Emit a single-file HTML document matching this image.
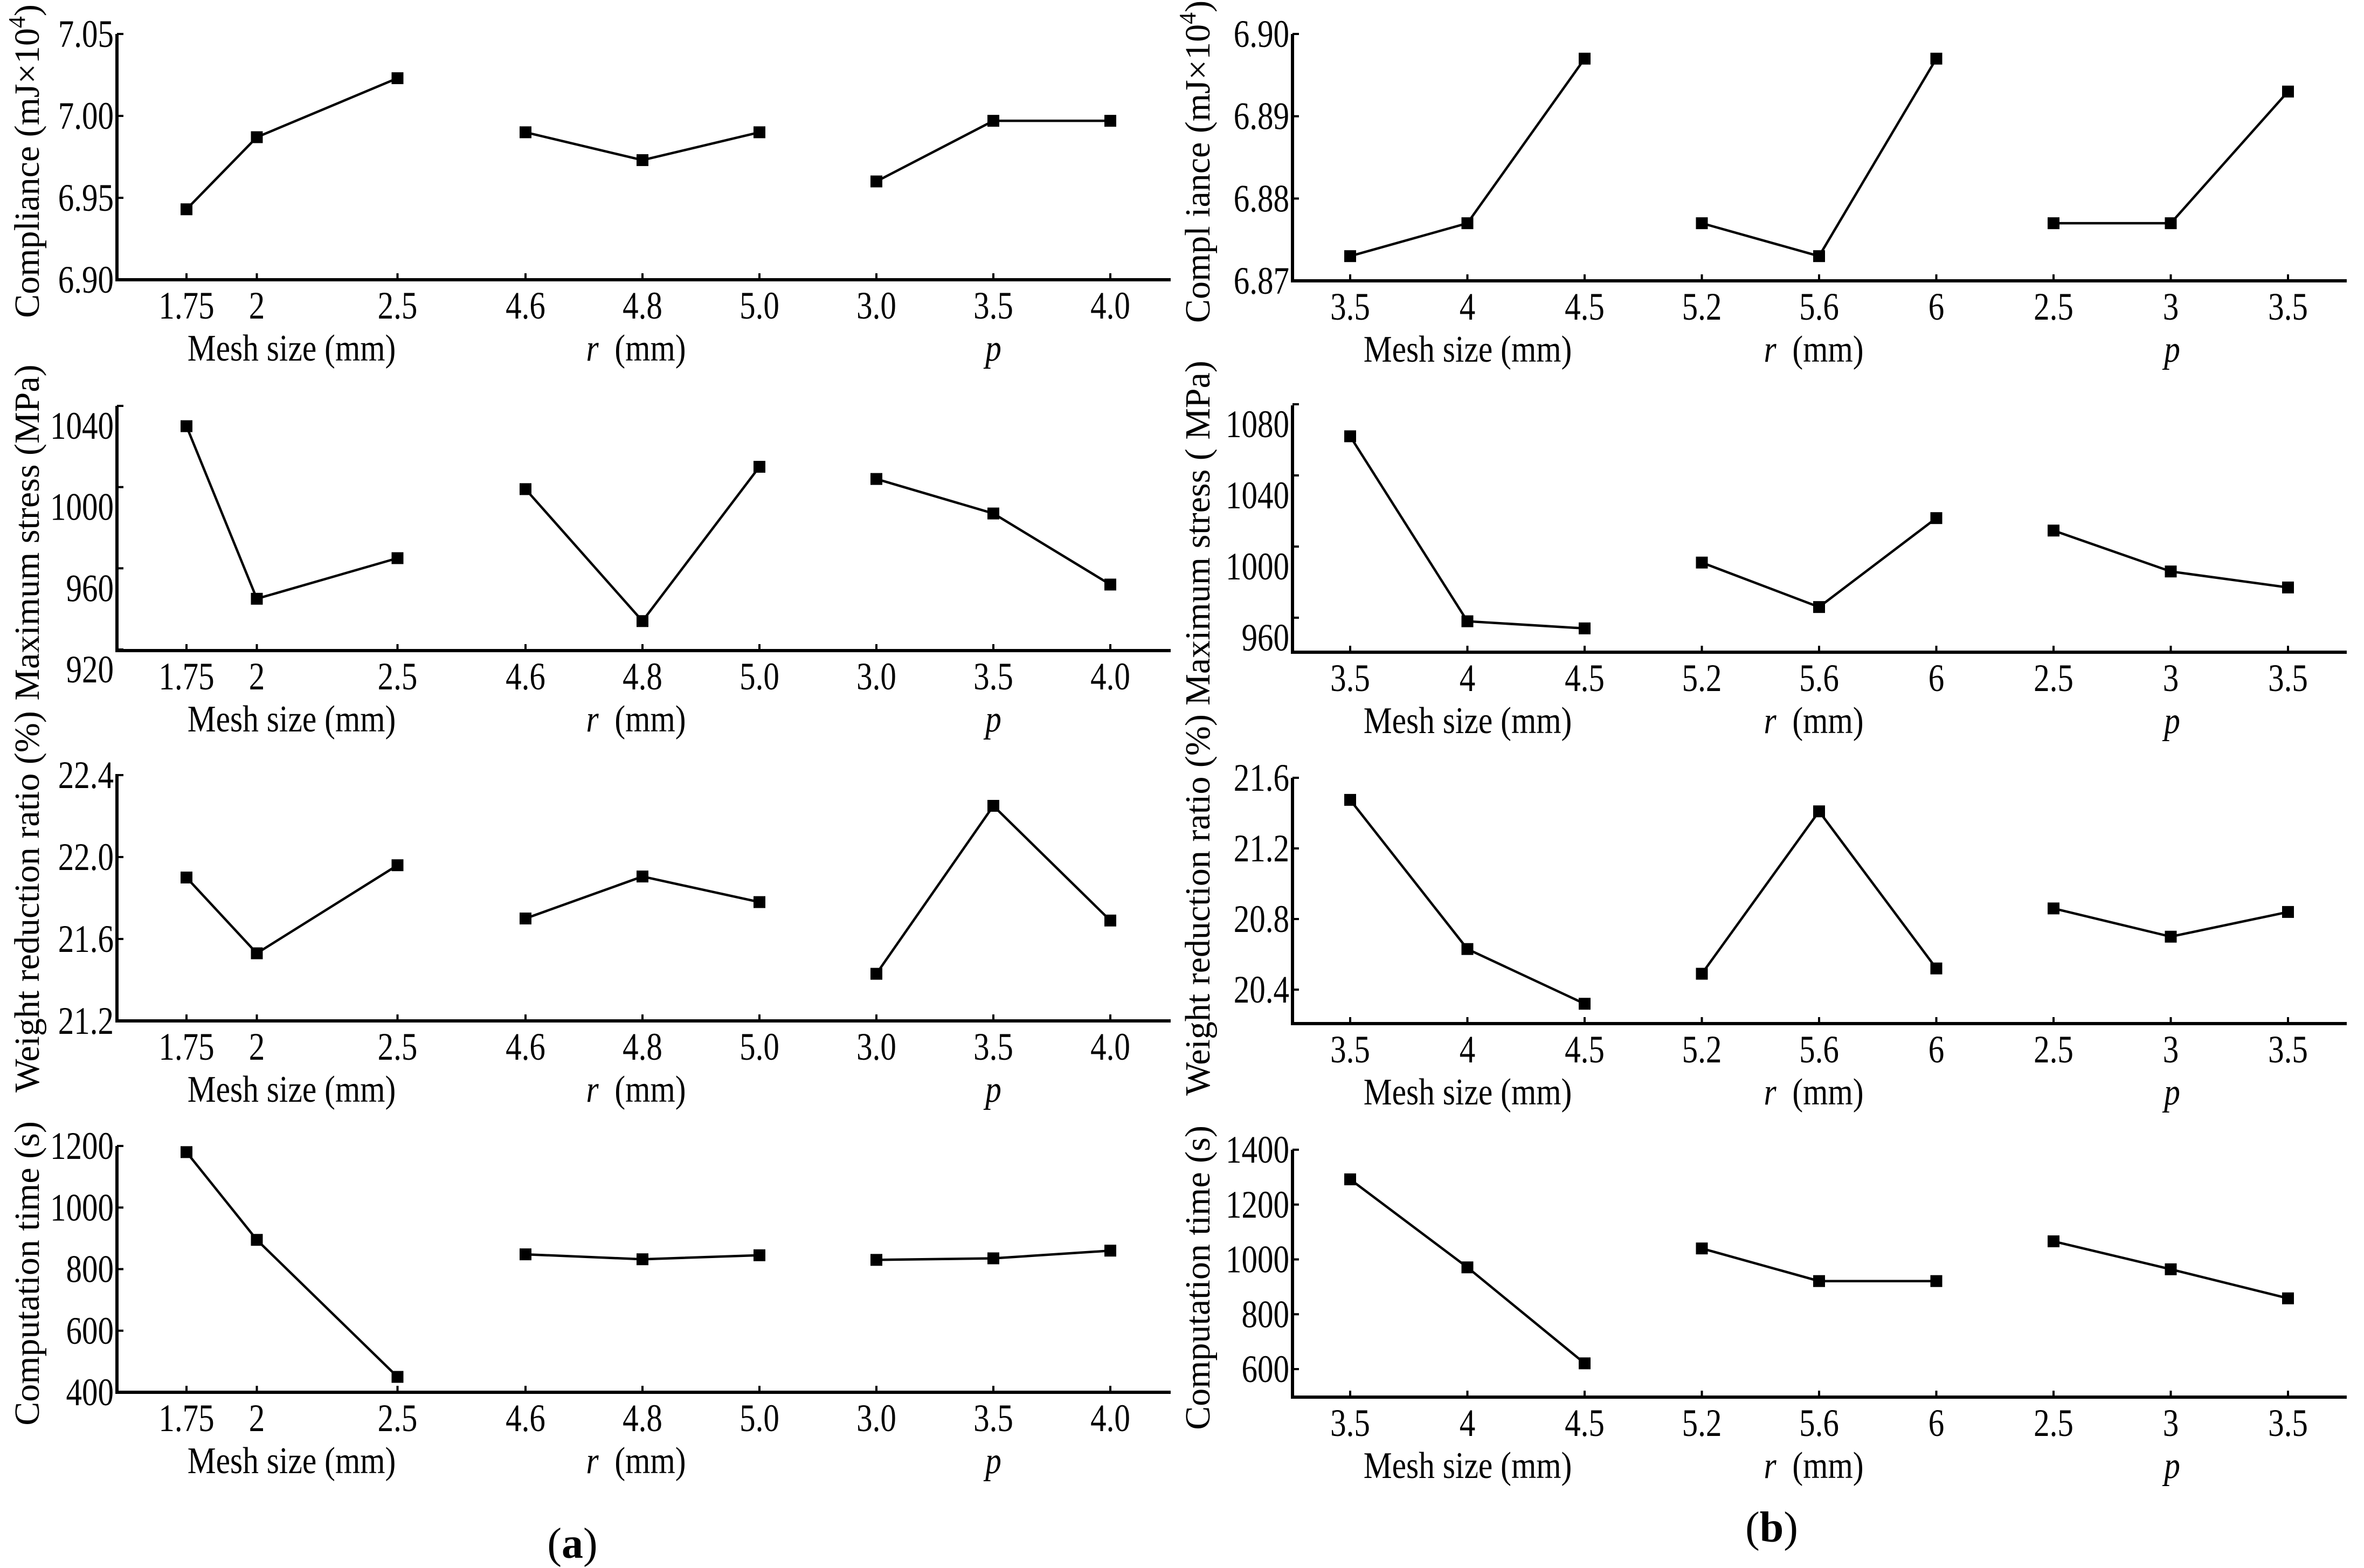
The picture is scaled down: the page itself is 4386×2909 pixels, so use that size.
<!DOCTYPE html>
<html><head><meta charset="utf-8">
<style>
html,body{margin:0;padding:0;background:#fff;}
svg{display:block;}
</style></head>
<body>
<svg id="chart" width="4386" height="2909" viewBox="0 0 4386 2909" xmlns="http://www.w3.org/2000/svg" font-family="'Liberation Serif', serif"></svg>
<script>
// ---- data: panel (a) ----
const aMeshCats = [1.75, 2, 2.5];
const aRCats = ["4.6", "4.8", "5.0"];
const aPCats = ["3.0", "3.5", "4.0"];
const aComplianceMesh = [6.943, 6.987, 7.023];
const aComplianceR = [6.990, 6.973, 6.990];
const aComplianceP = [6.960, 6.997, 6.997];
const aStressMesh = [1030, 945, 965];
const aStressR = [999, 934, 1010];
const aStressP = [1004, 987, 952];
const aWeightMesh = [21.90, 21.53, 21.96];
const aWeightR = [21.70, 21.905, 21.78];
const aWeightP = [21.43, 22.25, 21.69];
const aTimeMesh = [1180, 895, 450];
const aTimeR = [848, 832, 845];
const aTimeP = [830, 835, 860];
const aComplianceTicks = ["6.90", "6.95", "7.00", "7.05"];
const aStressTicks = ["920", "960", "1000", "1040"];
const aWeightTicks = ["21.2", "21.6", "22.0", "22.4"];
const aTimeTicks = ["400", "600", "800", "1000", "1200"];
// ---- data: panel (b) ----
const bMeshCats = ["3.5", "4", "4.5"];
const bRCats = ["5.2", "5.6", "6"];
const bPCats = ["2.5", "3", "3.5"];
const bComplianceMesh = [6.873, 6.877, 6.897];
const bComplianceR = [6.877, 6.873, 6.897];
const bComplianceP = [6.877, 6.877, 6.893];
const bStressMesh = [1062, 958, 954];
const bStressR = [991, 966, 1016];
const bStressP = [1009, 986, 977];
const bWeightMesh = [21.475, 20.63, 20.32];
const bWeightR = [20.49, 21.41, 20.52];
const bWeightP = [20.86, 20.70, 20.84];
const bTimeMesh = [1292, 971, 621];
const bTimeR = [1040, 921, 921];
const bTimeP = [1066, 964, 858];
const bComplianceTicks = ["6.87", "6.88", "6.89", "6.90"];
const bStressTicks = ["960", "1000", "1040", "1080"];
const bWeightTicks = ["20.4", "20.8", "21.2", "21.6"];
const bTimeTicks = ["600", "800", "1000", "1200", "1400"];

const NS = "http://www.w3.org/2000/svg";
const FONT = "'Liberation Serif', serif";
const svg = document.getElementById("chart");
function mk(tag, attrs, parent) {
  const e = document.createElementNS(NS, tag);
  for (const k in attrs) e.setAttribute(k, attrs[k]);
  if (tag === "text") e.setAttribute("font-family", FONT);
  (parent || svg).appendChild(e);
  return e;
}

function drawPanel(cfg) {
  const g = mk("g", {});
  
  
  const ticks = cfg.ticks.map(Number);
  const t0 = ticks[0], t1 = ticks[ticks.length - 1];
  const y = v => cfg.bottom - (v - t0) / (t1 - t0) * (cfg.bottom - cfg.top);
  const ax = mk("path", {d: `M${cfg.x0} ${cfg.axTop} V${cfg.axBottom} H${cfg.xEnd}`, stroke: "#000", "stroke-width": 6, fill: "none"}, g);
  
  
  cfg.ticks.forEach((t, i) => {
    const yy = y(ticks[i]);
    const tk = mk("line", {x1: cfg.x0, x2: cfg.x0 + 12, y1: yy, y2: yy, stroke: "#000", "stroke-width": 4}, g);
    
    
    const tl = mk("text", {x: 0, y: 0, "font-size": 72, "text-anchor": "end", transform: `translate(${cfg.x0 - 6},${yy + cfg.labelShift + 24}) scale(0.82,1)`}, g);
    
    
    tl.textContent = t;
  });
  const yt = mk("text", {x: 0, y: 0, "font-size": 66, "text-anchor": "middle", transform: `translate(${cfg.titleX},${(cfg.axTop + cfg.axBottom) / 2 + 8}) rotate(-90)`}, g);
  
  
  if (cfg.sup) {
    yt.textContent = cfg.title;
    const ts = mk("tspan", {"font-size": 44, dy: -26}, yt);
    ts.textContent = "4";
    const te = mk("tspan", {dy: 26}, yt);
    te.textContent = ")";
  } else yt.textContent = cfg.title;
  cfg.groups.forEach((grp) => {
    const xs = grp.cats.map((c, j) => grp.xf(c, j));
    grp.cats.forEach((c, j) => {
      const tk = mk("line", {x1: xs[j], x2: xs[j], y1: cfg.axBottom, y2: cfg.axBottom - 12, stroke: "#000", "stroke-width": 4}, g);
      
      
      const tl = mk("text", {x: 0, y: 0, "font-size": 72, "text-anchor": "middle", transform: `translate(${xs[j]},${cfg.axBottom + 72}) scale(0.82,1)`}, g);
      
      
      tl.textContent = String(c);
    });
    const pts = grp.vals.map((v, j) => [xs[j], y(v)]);
    const ln = mk("polyline", {points: pts.map(p => p.join(",")).join(" "), stroke: "#000", "stroke-width": 4.5, fill: "none"}, g);
    
    
    pts.forEach(p => {
      const m = mk("rect", {x: p[0] - 11, y: p[1] - 11, width: 22, height: 22, fill: "#000"}, g);
      
      
    });
    const gt = mk("text", {x: 0, y: 0, "font-size": 70, "text-anchor": "middle", transform: `translate(${grp.titleX},${cfg.axBottom + 150}) scale(0.85,1)`}, g);
    
    
    if (grp.key === "mesh") gt.textContent = "Mesh size (mm)";
    else if (grp.key === "r") {
      const a = mk("tspan", {"font-style": "italic"}, gt); a.textContent = "r";
      const b = mk("tspan", {}, gt); b.textContent = "\u00a0\u00a0(mm)";
    } else {
      const a = mk("tspan", {"font-style": "italic"}, gt); a.textContent = "p";
    }
  });
}

const aMeshX = v => 346 + (v - 1.75) * 522;
const aSlot = (j, base) => 975 + (base + j) * 217;
const bSlot = i => 2505 + i * 217.5;

const aRows = [
  {title: "Compliance (mJ×10", sup: true, ticks: aComplianceTicks, top: 63, bottom: 519, axTop: 63, axBottom: 519, shift: 0, m: aComplianceMesh, r: aComplianceR, p: aComplianceP, name: "panel-a-compliance"},
  {title: "Maximum stress (MPa)", ticks: aStressTicks, top: 753, bottom: 1205, axTop: 753, axBottom: 1207, shift: 37, m: aStressMesh, r: aStressR, p: aStressP, name: "panel-a-stress"},
  {title: "Weight reduction ratio (%)", ticks: aWeightTicks, top: 1438, bottom: 1894, axTop: 1436, axBottom: 1894, shift: 0, m: aWeightMesh, r: aWeightR, p: aWeightP, name: "panel-a-weight"},
  {title: "Computation time (s)", ticks: aTimeTicks, top: 2126, bottom: 2583, axTop: 2126, axBottom: 2583, shift: 0, m: aTimeMesh, r: aTimeR, p: aTimeP, name: "panel-a-time"}
];
aRows.forEach(r => drawPanel({
  name: r.name, title: r.title, sup: r.sup, ticks: r.ticks, top: r.top, bottom: r.bottom,
  axTop: r.axTop, axBottom: r.axBottom, labelShift: r.shift, x0: 217, xEnd: 2172, titleX: 72,
  groups: [
    {key: "mesh", cats: aMeshCats, vals: r.m, xf: c => aMeshX(c), titleX: 541},
    {key: "r", cats: aRCats, vals: r.r, xf: (c, j) => aSlot(j, 0), titleX: 1180},
    {key: "p", cats: aPCats, vals: r.p, xf: (c, j) => aSlot(j, 3), titleX: 1843}
  ]
}));

const bRows = [
  {title: "Compl iance (mJ×10", sup: true, ticks: bComplianceTicks, top: 63, bottom: 521, axTop: 63, axBottom: 521, shift: 0, m: bComplianceMesh, r: bComplianceR, p: bComplianceP, name: "panel-b-compliance"},
  {title: "Maximum stress ( MPa)", ticks: bStressTicks, top: 750, bottom: 1146, axTop: 752, axBottom: 1210, shift: 37, m: bStressMesh, r: bStressR, p: bStressP, name: "panel-b-stress"},
  {title: "Weight reduction ratio (%)", ticks: bWeightTicks, top: 1443, bottom: 1836, axTop: 1443, axBottom: 1899, shift: 0, m: bWeightMesh, r: bWeightR, p: bWeightP, name: "panel-b-weight"},
  {title: "Computation time (s)", ticks: bTimeTicks, top: 2133, bottom: 2540, axTop: 2133, axBottom: 2592, shift: 0, m: bTimeMesh, r: bTimeR, p: bTimeP, name: "panel-b-time"}
];
bRows.forEach(r => drawPanel({
  name: r.name, title: r.title, sup: r.sup, ticks: r.ticks, top: r.top, bottom: r.bottom,
  axTop: r.axTop, axBottom: r.axBottom, labelShift: r.shift, x0: 2398, xEnd: 4354, titleX: 2244,
  groups: [
    {key: "mesh", cats: bMeshCats, vals: r.m, xf: (c, j) => bSlot(j), titleX: 2723},
    {key: "r", cats: bRCats, vals: r.r, xf: (c, j) => bSlot(3 + j), titleX: 3365},
    {key: "p", cats: bPCats, vals: r.p, xf: (c, j) => bSlot(6 + j), titleX: 4030}
  ]
}));

const la = mk("text", {x: 1062, y: 2890, "font-size": 80, "text-anchor": "middle"});


la.textContent = "(";
const laB = mk("tspan", {"font-weight": "bold"}, la); laB.textContent = "a";
const laC = mk("tspan", {}, la); laC.textContent = ")";
const lb = mk("text", {x: 3287, y: 2860, "font-size": 80, "text-anchor": "middle"});


lb.textContent = "(";
const lbB = mk("tspan", {"font-weight": "bold"}, lb); lbB.textContent = "b";
const lbC = mk("tspan", {}, lb); lbC.textContent = ")";
</script>
</body></html>
